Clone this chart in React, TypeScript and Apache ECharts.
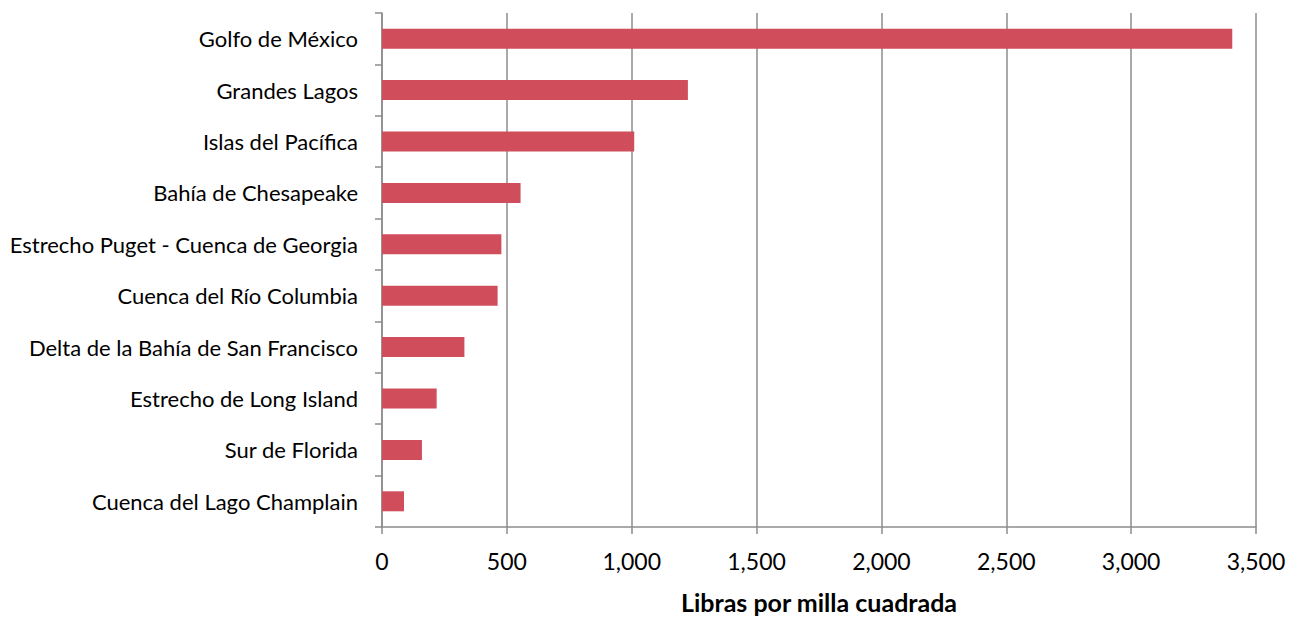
import React, { useEffect, useRef } from "react";
import * as echarts from "echarts";

const categories = [
  "Golfo de México",
  "Grandes Lagos",
  "Islas del Pacífica",
  "Bahía de Chesapeake",
  "Estrecho Puget - Cuenca de Georgia",
  "Cuenca del Río Columbia",
  "Delta de la Bahía de San Francisco",
  "Estrecho de Long Island",
  "Sur de Florida",
  "Cuenca del Lago Champlain",
];
const values = [3405, 1225, 1010, 555, 478, 463, 330, 219, 160, 88];
const xAxisName = "Libras por milla cuadrada";

export default function App() {
  const ref = useRef<HTMLDivElement>(null);
  useEffect(() => {
    if (!ref.current) return;
    const chart = echarts.init(ref.current, null, { renderer: "svg" });
    const font = "Lato, 'Open Sans', sans-serif";
    chart.setOption({
      animation: false,
      backgroundColor: "#ffffff",
      grid: { left: 382, right: 48, top: 13, bottom: 89, containLabel: false },
      xAxis: {
        type: "value",
        min: 0,
        max: 3500,
        interval: 500,
        name: xAxisName,
        nameLocation: "middle",
        nameGap: 62,
        nameTextStyle: { fontFamily: font, fontSize: 25, fontWeight: "bold", color: "#000" },
        axisLine: { show: true, lineStyle: { color: "#8c8c8c", width: 1.5 } },
        axisTick: { show: true, length: 7, lineStyle: { color: "#8c8c8c", width: 1.5 } },
        axisLabel: {
          fontFamily: font,
          fontSize: 23,
          color: "#000",
          margin: 22,
          formatter: (v: number) => v.toLocaleString("en-US"),
        },
        splitLine: { show: true, lineStyle: { color: "#8c8c8c", width: 1.5 } },
      },
      yAxis: {
        type: "category",
        data: categories,
        inverse: true,
        axisLine: { show: true, lineStyle: { color: "#8c8c8c", width: 1.5 } },
        axisTick: { show: true, length: 7, lineStyle: { color: "#8c8c8c", width: 1.5 } },
        axisLabel: { fontFamily: font, fontSize: 22, color: "#000", margin: 24 },
        splitLine: { show: false },
      },
      series: [
        {
          type: "bar",
          data: values,
          barWidth: 20,
          itemStyle: { color: "#D04E5B" },
        },
      ],
    });
    return () => chart.dispose();
  }, []);
  return (
    <div
      ref={ref}
      style={{ position: "fixed", left: 0, top: 0, width: 1304, height: 619, background: "#fff" }}
    />
  );
}
